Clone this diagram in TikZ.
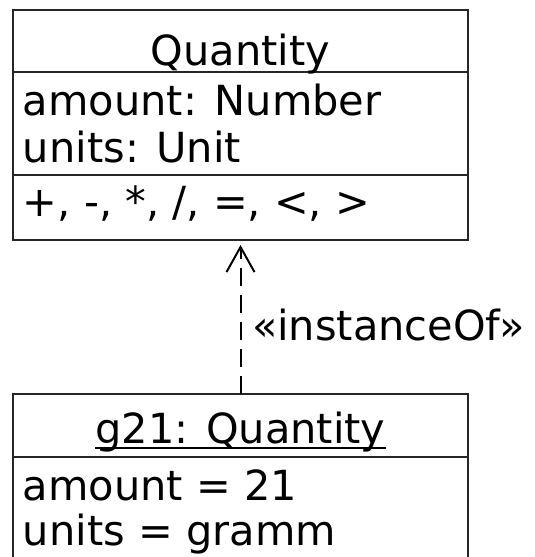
\documentclass[tikz,border=0pt]{standalone}
\usepackage{fontspec}
\setmainfont{DejaVu Sans}
\usetikzlibrary{arrows.meta}
\begin{document}
\begin{tikzpicture}[x=1pt,y=-1pt, line width=2pt,
  umlbox/.style={draw=black!85, rectangle, inner sep=0pt, outer sep=0pt},
  divider/.style={draw=black!85},
  txt/.style={inner sep=0pt, outer sep=0pt, font=\fontsize{41.5}{46}\selectfont},
  conn/.style={draw=black, line width=2pt, dash pattern=on 18pt off 9pt,
    -{Straight Barb[length=25pt,width=28pt,line width=2pt]}, shorten >=5pt}]
\useasboundingbox (0,0) rectangle (535,557);
% class box
\node[umlbox, minimum width=455pt, minimum height=230pt] (cls) at (240.5,125) {};
\draw[divider] (13,72) -- (468,72);
\draw[divider] (13,175) -- (468,175);
\node[txt, anchor=base] (clsname) at (240.5,65) {Quantity};
\node[txt, anchor=base west] (a1) at (23,115) {amount: Number};
\node[txt, anchor=base west] (a2) at (23,162) {units: Unit};
\node[txt, anchor=base west] (ops) at (23,216) {+, -, *, /, =, <, >};
% instance box
\node[umlbox, minimum width=455pt, minimum height=176pt] (inst) at (240.5,482) {};
\draw[divider] (13,457) -- (468,457);
\node[txt, anchor=base] (instname) at (240.5,443) {g21: Quantity};
\draw[line width=1.5pt] (instname.base west) ++(0,5) -- (instname.base east |- 0,448);
\node[txt, anchor=base west] (b1) at (23,500) {amount = 21};
\node[txt, anchor=base west] (b2) at (23,545) {units = gramm};
% connector
\draw[conn] (inst.north) -- (cls.south);
\node[txt, anchor=base west] (lbl) at (252,340) {«instanceOf»};
\end{tikzpicture}
\end{document}
